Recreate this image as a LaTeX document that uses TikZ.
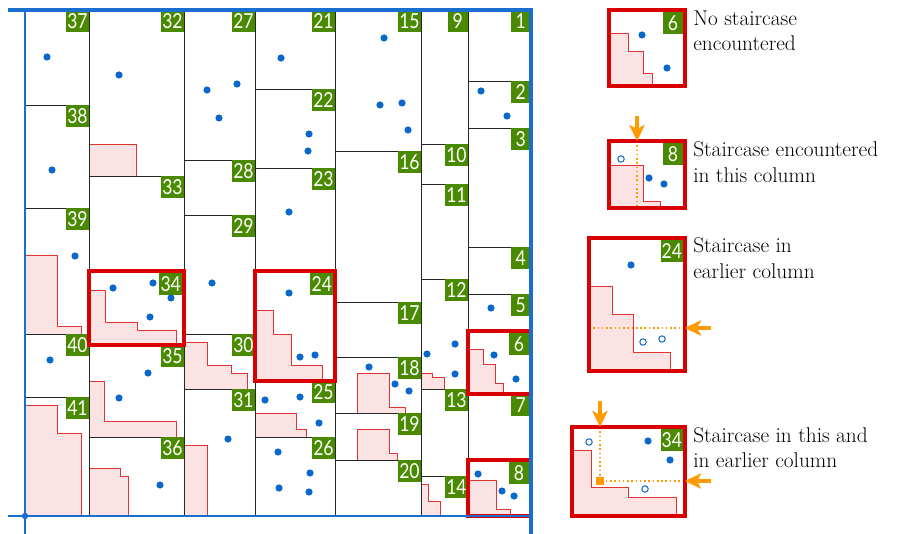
\documentclass[tikz,border=0pt]{standalone}
\usepackage{fontspec}
\usepackage{tikz}
\usetikzlibrary{arrows.meta}
\newfontfamily\numfont{Lato}[FakeStretch=0.85]
\definecolor{lblgreen}{HTML}{4A8A00}
\definecolor{ptblue}{HTML}{0A68CC}
\definecolor{axisblue}{HTML}{1A6ED0}
\definecolor{boxred}{HTML}{D80000}
\definecolor{stairred}{HTML}{E03434}
\definecolor{stairfill}{HTML}{FBE3E4}
\definecolor{scanorange}{HTML}{FF9A00}

\tikzset{
  cell/.style={draw=black!85, line width=0.7pt},
  hit/.style={draw=boxred, line width=2.3pt},
  stair/.style={fill=stairfill, draw=stairred, line width=0.7pt},
  lbl/.style={fill=lblgreen, text=white, font={\numfont\fontsize{15.5pt}{16pt}\selectfont},
    inner xsep=0.8pt, inner ysep=0pt, minimum height=16.5pt, minimum width=15pt, anchor=north east},
  blob/.style={fill=ptblue},
  hole/.style={draw=ptblue, fill=white, line width=0.75pt},
  scan/.style={draw=scanorange, line width=1.2pt, dotted},
  push/.style={draw=scanorange, line width=3.6pt, -{Stealth[length=12pt,width=11.5pt,inset=3pt]}},
  note/.style={font={\fontsize{16pt}{19pt}\selectfont}, anchor=base west, inner sep=0pt}
}

\begin{document}
\begin{tikzpicture}[x=0.75pt,y=-0.75pt]
\useasboundingbox (0,0) rectangle (898,534);
% Staircases in the grid
\filldraw[stair] (89,176) -- (89,144) -- (136,144) -- (136,176) -- cycle;
\filldraw[stair] (25,334) -- (25,255) -- (57,255) -- (57,326) -- (81,326) -- (81,334) -- cycle;
\filldraw[stair] (89,345) -- (89,290) -- (105,290) -- (105,322) -- (137,322) -- (137,330) -- (176,330) -- (176,345) -- cycle;
\filldraw[stair] (184,389) -- (184,342) -- (207,342) -- (207,365) -- (231,365) -- (231,373) -- (247,373) -- (247,389) -- cycle;
\filldraw[stair] (255,381) -- (255,310) -- (273,310) -- (273,334) -- (291,334) -- (291,365) -- (322,365) -- (322,381) -- cycle;
\filldraw[stair] (89,437) -- (89,381) -- (104,381) -- (104,421) -- (176,421) -- (176,437) -- cycle;
\filldraw[stair] (25,516) -- (25,405) -- (57,405) -- (57,433) -- (81,433) -- (81,516) -- cycle;
\filldraw[stair] (89,516) -- (89,468) -- (120,468) -- (120,476) -- (128,476) -- (128,516) -- cycle;
\filldraw[stair] (184,516) -- (184,445) -- (207,445) -- (207,516) -- cycle;
\filldraw[stair] (255,437) -- (255,413) -- (296,413) -- (296,429) -- (306,429) -- (306,437) -- cycle;
\filldraw[stair] (357,413) -- (357,373) -- (389,373) -- (389,407) -- (405,407) -- (405,413) -- cycle;
\filldraw[stair] (357,460) -- (357,429) -- (389,429) -- (389,453) -- (397,453) -- (397,460) -- cycle;
\filldraw[stair] (421,389) -- (421,373) -- (432,373) -- (432,377) -- (444,377) -- (444,389) -- cycle;
\filldraw[stair] (421,516) -- (421,484) -- (428,484) -- (428,501) -- (440,501) -- (440,516) -- cycle;
\filldraw[stair] (468,394) -- (468,349) -- (483,349) -- (483,364) -- (495,364) -- (495,383) -- (503,383) -- (503,394) -- cycle;
\filldraw[stair] (468,516) -- (468,480) -- (496,480) -- (496,509) -- (510,509) -- (510,516) -- cycle;
%
% Columns and cells
\foreach \x in {89,184,255,335,421,468}
  \draw[cell] (\x,10) -- (\x,516);
\foreach \y/\n in {10/37,105/38,208/39,334/40,397/41} {
  \draw[cell] (25,\y) -- (89,\y);
  \node[lbl] (c\n) at (89,\y) {\n};
}
\foreach \y/\n in {10/32,176/33,345/35,437/36} {
  \draw[cell] (89,\y) -- (184,\y);
  \node[lbl] (c\n) at (184,\y) {\n};
}
\foreach \y/\n in {10/27,160/28,215/29,334/30,389/31} {
  \draw[cell] (184,\y) -- (255,\y);
  \node[lbl] (c\n) at (255,\y) {\n};
}
\foreach \y/\n in {10/21,89/22,168/23,381/25,437/26} {
  \draw[cell] (255,\y) -- (335,\y);
  \node[lbl] (c\n) at (335,\y) {\n};
}
\foreach \y/\n in {10/15,151/16,302/17,357/18,413/19,460/20} {
  \draw[cell] (335,\y) -- (421,\y);
  \node[lbl] (c\n) at (421,\y) {\n};
}
\foreach \y/\n in {10/9,144/10,184/11,279/12,389/13,476/14} {
  \draw[cell] (421,\y) -- (468,\y);
  \node[lbl] (c\n) at (468,\y) {\n};
}
\foreach \y/\n in {10/1,81/2,128/3,247/4,294/5,394/7} {
  \draw[cell] (468,\y) -- (531,\y);
  \node[lbl] (c\n) at (531,\y) {\n};
}
%
% Hit cells
\draw[hit] (89,271) rectangle (184,345);
\node[lbl, xshift=-1.3pt, yshift=-1.3pt] (c34) at (184,271) {34};
\draw[hit] (255,271) rectangle (335,381);
\node[lbl, xshift=-1.3pt, yshift=-1.3pt] (c24) at (335,271) {24};
\draw[hit] (468,331) rectangle (531,394);
\node[lbl, xshift=-1.3pt, yshift=-1.3pt] (c6) at (531,331) {6};
\draw[hit] (468,460) rectangle (531,516);
\node[lbl, xshift=-1.3pt, yshift=-1.3pt] (c8) at (531,460) {8};
%
% Points
\foreach \x/\y in {47/57, 52/170, 119/75, 207/90, 237/84, 219/118, 281/58, 309/134, 308/151,
    384/38, 380/105, 402/103, 408/130, 481/91, 507/116, 75/256, 113/288, 153/283, 171/298,
    150/317, 212/283, 289/212, 289/293, 300/357, 315/355, 491/308, 427/354, 455/344, 455/374,
    494/355, 516/379, 148/373, 119/398, 50/360, 160/485, 228/439, 265/400, 300/397, 319/423,
    278/452, 310/473, 279/488, 309/492, 369/367, 395/384, 409/391, 478/474, 502/491, 514/496}
  \fill[blob] (\x,\y) circle (2.7pt);
%
% Frame and axes
\draw[axisblue, line width=1.1pt] (8,516) -- (531,516);
\draw[axisblue, line width=1.1pt] (25,534) -- (25,10);
\draw[axisblue, line width=2.6pt] (8,10) -- (531,10) -- (531,534);
\fill[axisblue] (25,516) circle (2.4pt);
%
% Legend: no staircase
\filldraw[stair] (609,86) -- (609,33) -- (628,33) -- (628,51) -- (643,51) -- (643,73) -- (652,73) -- (652,86) -- cycle;
\draw[hit] (609,10) rectangle (685,86);
\node[lbl, xshift=-1.3pt, yshift=-1.3pt] (k6) at (685,10) {6};
\fill[blob] (642,35) circle (2.7pt);
\fill[blob] (667,68) circle (2.7pt);
\node[note] (n6a) at (693,26) {No staircase};
\node[note] (n6b) at (693,51) {encountered};
%
% Legend: staircase in this column
\filldraw[stair] (609,208) -- (609,165) -- (643,165) -- (643,201) -- (660,201) -- (660,208) -- cycle;
\coordinate (k8top) at (637,141);
\coordinate (k8bot) at (637,208);
\coordinate (a8) at (637,116);
\draw[scan] (k8top) -- (k8bot);
\draw[hit] (609,141) rectangle (685,208);
\node[lbl, xshift=-1.3pt, yshift=-1.3pt] (k8) at (685,141) {8};
\draw[hole] (621,159) circle (2.4pt);
\fill[blob] (649,178) circle (2.7pt);
\fill[blob] (664,184) circle (2.7pt);
\draw[push] (a8) -- (k8top);
\node[note] (n8a) at (693,157) {Staircase encountered};
\node[note] (n8b) at (693,183) {in this column};
%
% Legend: staircase in earlier column
\filldraw[stair] (589,371) -- (589,286) -- (612,286) -- (612,314) -- (633,314) -- (633,352) -- (670,352) -- (670,371) -- cycle;
\coordinate (k24l) at (589,328);
\coordinate (k24r) at (685,328);
\coordinate (a24) at (711,328);
\draw[scan] (k24l) -- (k24r);
\draw[hit] (589,238) rectangle (685,371);
\node[lbl, xshift=-1.3pt, yshift=-1.3pt] (k24) at (685,238) {24};
\fill[blob] (631,265) circle (2.7pt);
\draw[hole] (643,342) circle (2.4pt);
\draw[hole] (662,339) circle (2.4pt);
\draw[push] (a24) -- (k24r);
\node[note] (n24a) at (693,253) {Staircase in};
\node[note] (n24b) at (693,278) {earlier column};
%
% Legend: staircase in this and earlier column
\filldraw[stair] (572,516) -- (572,450) -- (591,450) -- (591,487) -- (628,487) -- (628,497) -- (676,497) -- (676,516) -- cycle;
\coordinate (k34top) at (600,427);
\coordinate (k34c) at (600,481);
\coordinate (k34r) at (685,481);
\coordinate (a34t) at (600,401);
\coordinate (a34r) at (711,481);
\draw[scan] (k34top) -- (k34c) -- (k34r);
\draw[hit] (572,427) rectangle (685,516);
\node[lbl, xshift=-1.3pt, yshift=-1.3pt] (k34) at (685,427) {34};
\fill[blob] (648,441) circle (2.7pt);
\fill[blob] (670,460) circle (2.7pt);
\draw[hole] (589,442) circle (2.4pt);
\draw[hole] (645,489) circle (2.4pt);
\fill[scanorange] ([xshift=-3pt,yshift=-3pt]k34c) rectangle ([xshift=3pt,yshift=3pt]k34c);
\draw[push] (a34t) -- (k34top);
\draw[push] (a34r) -- (k34r);
\node[note] (n34a) at (693,442) {Staircase in this and};
\node[note] (n34b) at (693,467) {in earlier column};
\end{tikzpicture}
\end{document}
